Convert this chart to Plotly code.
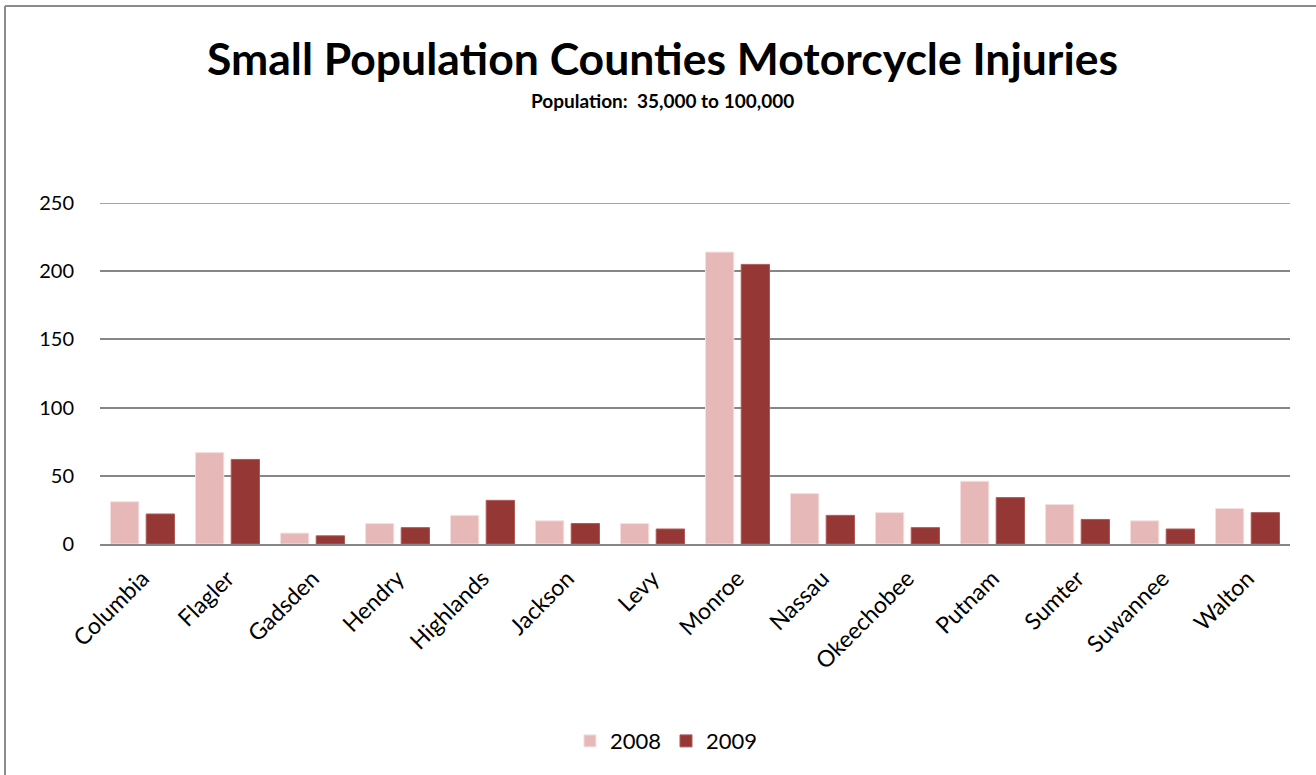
import plotly.graph_objects as go

counties = ["Columbia", "Flagler", "Gadsden", "Hendry", "Highlands", "Jackson", "Levy",
            "Monroe", "Nassau", "Okeechobee", "Putnam", "Sumter", "Suwannee", "Walton"]
injuries_2008 = [31, 67, 8, 15, 21, 17, 15, 214, 37, 23, 46, 29, 17, 26]
injuries_2009 = [22, 62, 6, 12, 32, 15, 11, 205, 21, 12, 34, 18, 11, 23]
y_ticks = [0, 50, 100, 150, 200, 250]

FONT = "Lato"
GRID = "#868686"

fig = go.Figure()
fig.add_trace(go.Bar(x=counties, y=injuries_2008, name="2008",
                     marker=dict(color="#E6B9B8", line=dict(color="#F5E0DF", width=1))))
fig.add_trace(go.Bar(x=counties, y=injuries_2009, name="2009",
                     marker=dict(color="#953735", line=dict(color="#B05A58", width=1))))

plot_w = 1316 - 100 - 26
plot_h = 775 - 203 - 231
top_y = 1 + (203 - 6) / plot_h
left_x = -(100 - 5) / plot_w

fig.update_layout(
    width=1316, height=775,
    margin=dict(l=100, r=26, t=203, b=231),
    paper_bgcolor="white", plot_bgcolor="white",
    barmode="group", bargap=0.16, bargroupgap=0.207,
    font=dict(family=FONT, size=20, color="black"),
    showlegend=True,
    legend=dict(orientation="h", x=0.476, xanchor="center", y=-0.578, yanchor="middle",
                font=dict(size=22, family=FONT), traceorder="normal"),
    xaxis=dict(tickangle=-45, showgrid=False, showline=True, linecolor=GRID, linewidth=2,
               ticks="", ticklabelstandoff=10, tickfont=dict(size=23, family=FONT)),
    yaxis=dict(range=[0, y_ticks[-1]], tickvals=y_ticks, showgrid=True, gridcolor=GRID, gridwidth=1.5,
               zeroline=False, showline=False, ticks="", ticklabelstandoff=25,
               tickfont=dict(size=20, family=FONT)),
    annotations=[
        dict(text="<b>Small Population Counties Motorcycle Injuries</b>", xref="paper", yref="paper",
             x=0.4727, y=1.0, yshift=146, xanchor="center", yanchor="middle", showarrow=False,
             font=dict(size=44.5, family=FONT, color="black")),
        dict(text="<b>Population:  35,000 to 100,000</b>", xref="paper", yref="paper",
             x=0.4727, y=1.0, yshift=103, xanchor="center", yanchor="middle", showarrow=False,
             font=dict(size=19, family=FONT, color="black")),
    ],
    shapes=[
        # top gridline (at the range edge, which Plotly does not draw itself)
        dict(type="line", xref="paper", yref="y", x0=0, x1=1, y0=y_ticks[-1], y1=y_ticks[-1],
             line=dict(color=GRID, width=1.5), layer="below"),
        dict(type="line", xref="paper", yref="paper", x0=left_x, x1=1 + 30 / plot_w, y0=top_y, y1=top_y,
             line=dict(color="#8c8c8c", width=2)),
        dict(type="line", xref="paper", yref="paper", x0=left_x, x1=left_x, y0=top_y, y1=-231 / plot_h,
             line=dict(color="#8c8c8c", width=2)),
    ],
)

fig.write_html("out.html", config={"displayModeBar": False},
               post_script="document.body.style.margin='0';document.body.style.overflow='hidden';")
